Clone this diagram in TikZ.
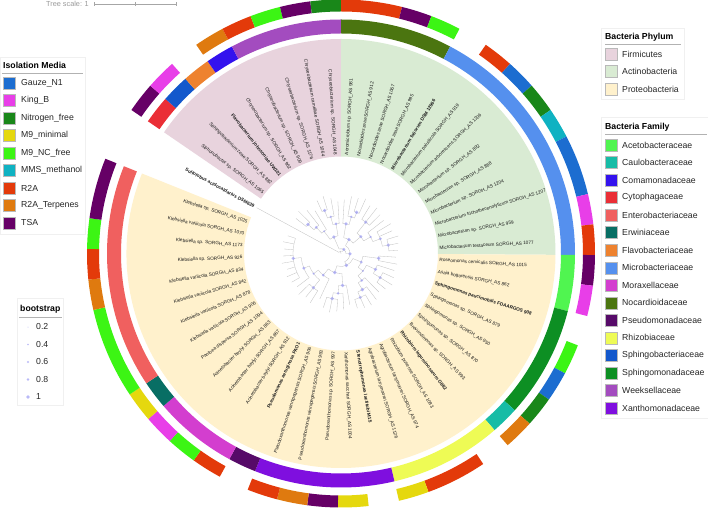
\documentclass[tikz,border=0pt]{standalone}
\usepackage{fontspec}
\setmainfont{Liberation Sans}
\definecolor{cFirm}{HTML}{E8D3DD}
\definecolor{cActi}{HTML}{D9EBD3}
\definecolor{cProt}{HTML}{FFF1CC}
\definecolor{mGauze}{HTML}{1C6DD0}
\definecolor{mKing}{HTML}{E83EE8}
\definecolor{mNitro}{HTML}{198719}
\definecolor{mMmin}{HTML}{E5D80E}
\definecolor{mMNC}{HTML}{3CF514}
\definecolor{mMMS}{HTML}{0FB2C2}
\definecolor{mRtwo}{HTML}{E33A0A}
\definecolor{mTerp}{HTML}{DF7A0F}
\definecolor{mTSA}{HTML}{660066}
\definecolor{fAceto}{HTML}{50F550}
\definecolor{fCaulo}{HTML}{17BCA6}
\definecolor{fComa}{HTML}{3312EE}
\definecolor{fCyto}{HTML}{EA2E36}
\definecolor{fEntero}{HTML}{F0605F}
\definecolor{fErw}{HTML}{086E64}
\definecolor{fFlavo}{HTML}{EE822F}
\definecolor{fMicro}{HTML}{5590EE}
\definecolor{fMorax}{HTML}{D33ECF}
\definecolor{fNocar}{HTML}{4B7510}
\definecolor{fPseudo}{HTML}{560A68}
\definecolor{fRhizo}{HTML}{EEFB55}
\definecolor{fSphb}{HTML}{1358CC}
\definecolor{fSphm}{HTML}{0D8F23}
\definecolor{fWeek}{HTML}{A34CBF}
\definecolor{fXantho}{HTML}{7F0FDF}
\definecolor{bootc}{HTML}{9C9CF4}
\tikzset{
  lab/.style={font=\fontsize{4.7}{5}\selectfont, inner sep=0pt, text=black!90},
  treeline/.style={draw=gray!50, line width=0.3pt},
  boot/.style={fill=bootc, fill opacity=0.7},
  legtext/.style={font=\fontsize{8.7}{10}\selectfont, anchor=west, inner sep=0pt, text=black!85},
  legtitle/.style={font=\fontsize{8.7}{10}\selectfont\bfseries, anchor=west, inner sep=0pt},
  swatch/.style={draw=gray!55, line width=0.3pt},
  legbox/.style={draw=gray!12, fill=white, line width=0.4pt},
}
\newcommand\ringseg[5]{%
  \pgfmathsetmacro\angA{90-6.95*(#1)}%
  \pgfmathsetmacro\angB{90-6.95*((#2)+1)}%
  \fill[#5] (\angA:#3pt) arc[start angle=\angA, end angle=\angB, radius=#3pt]
    -- (\angB:#4pt) arc[start angle=\angB, end angle=\angA, radius=#4pt] -- cycle;}
\newcommand\tnode[6]{%
  \pgfmathsetmacro\tA{86.525-6.95*(#1)}%
  \pgfmathsetmacro\tB{86.525-6.95*(#4)}%
  \pgfmathsetmacro\tC{86.525-6.95*(#5)}%
  \draw[treeline] (\tA:#2pt) -- (\tA:#3pt);
  \draw[treeline] (\tB:#3pt) arc[start angle=\tB, end angle=\tC, radius=#3pt];
  \fill[boot] (\tA:#3pt) circle[radius=#6pt];}
\newcommand\tleaf[3]{%
  \pgfmathsetmacro\tA{86.525-6.95*(#1)}%
  \draw[treeline] (\tA:#2pt) -- (\tA:#3pt);}
\begin{document}
\begin{tikzpicture}[x=1pt,y=1pt]
\useasboundingbox (0,0) rectangle (708,509);
\fill[white] (0,0) rectangle (708,509);

% ---------- tree scale ----------
\node[font=\fontsize{7.3}{8}\selectfont, text=gray!80, anchor=west, inner sep=0pt] (tscale) at (46,505) {Tree scale: 1};
\coordinate (tsA) at (94,505);
\coordinate (tsB) at (135,505);
\coordinate (tsC) at (176,505);
\draw[gray!70, line width=0.5pt] (tsA) -- (tsC);
\foreach \p in {tsA,tsB,tsC} \draw[gray!70, line width=0.5pt] ([yshift=-1.8pt]\p) -- ([yshift=1.8pt]\p);

\begin{scope}[shift={(341,255.5)}]
% ---------- phylum sectors ----------
\ringseg{-8}{-1}{97}{214.5}{cFirm}
\ringseg{0}{12}{97}{214.5}{cActi}
\ringseg{13}{41}{97}{214.5}{cProt}

% ---------- family ring ----------
\foreach \a/\b/\c in {-8/-8/fCyto,-7/-7/fSphb,-6/-6/fFlavo,-5/-5/fComa,-4/-1/fWeek,
  0/3/fNocar,4/12/fMicro,13/14/fAceto,15/18/fSphm,19/19/fCaulo,20/23/fRhizo,
  24/28/fXantho,29/29/fPseudo,30/32/fMorax,33/33/fErw,34/41/fEntero}
  {\ringseg{\a}{\b}{220}{234}{\c}}

% ---------- isolation media ring ----------
\foreach \a/\b/\c in {-8/-8/mTSA,-7/-7/mKing,-5/-5/mTerp,-4/-4/mRtwo,-3/-3/mMNC,-2/-2/mTSA,-1/-1/mNitro,
  0/1/mRtwo,2/2/mTSA,3/3/mMNC,5/5/mRtwo,6/6/mGauze,7/7/mNitro,8/8/mMMS,9/10/mGauze,11/11/mKing,12/12/mRtwo,
  13/13/mTSA,14/14/mKing,16/16/mMNC,17/17/mGauze,18/18/mNitro,19/19/mTerp,21/22/mRtwo,23/23/mMmin,
  25/25/mMmin,26/26/mTSA,27/27/mTerp,28/28/mRtwo,30/30/mRtwo,31/31/mMNC,32/32/mKing,33/33/mMmin,
  34/36/mMNC,37/37/mTerp,38/38/mRtwo,39/39/mMNC,40/41/mTSA}
  {\ringseg{\a}{\b}{242}{254}{\c}}

% ---------- tree ----------
\tnode{-2.44}{0}{2.5}{-9.35}{4.47}{0.01}
\tleaf{-9.35}{2.5}{96}
\tnode{4.47}{2.5}{5}{-3.875}{12.82}{1.6}
% pink clade
\tnode{-3.875}{5}{18}{-5.875}{-1.875}{1.8}
\tnode{-1.875}{18}{30}{-2.75}{-1}{1.5}
\tnode{-2.75}{30}{38}{-3.5}{-2}{1.2}
\tnode{-3.5}{38}{46}{-4}{-3}{1.8}
\tnode{-5.875}{18}{28}{-6.75}{-5}{1.0}
\tnode{-6.75}{28}{36}{-7.5}{-6}{1.4}
\tnode{-7.5}{36}{44}{-8}{-7}{1.8}
\tleaf{-1}{30}{52}\tleaf{-2}{38}{56}\tleaf{-3}{46}{60}\tleaf{-4}{46}{58}
\tleaf{-5}{28}{50}\tleaf{-6}{36}{55}\tleaf{-7}{44}{60}\tleaf{-8}{44}{57}
% actino + proteo
\tnode{12.82}{5}{9}{3.75}{21.89}{1.8}
\tnode{3.75}{9}{16}{0.875}{6.625}{1.8}
\tnode{0.875}{16}{30}{0}{1.75}{1.8}
\tnode{1.75}{30}{38}{1}{2.5}{1.3}
\tnode{2.5}{38}{44}{2}{3}{1.8}
\tnode{6.625}{16}{26}{5}{8.25}{1.6}
\tnode{5}{26}{40}{4}{6}{1.8}
\tnode{8.25}{26}{34}{7}{9.5}{1.2}
\tnode{9.5}{34}{42}{8}{11}{1.5}
\tnode{11}{42}{48}{10}{12}{1.8}
\tleaf{0}{30}{54}\tleaf{1}{38}{58}\tleaf{2}{44}{58}\tleaf{3}{44}{60}
\tleaf{4}{40}{56}\tleaf{5}{40}{58}\tleaf{6}{40}{55}\tleaf{7}{34}{54}
\tleaf{8}{42}{58}\tleaf{9}{42}{56}\tleaf{10}{48}{60}\tleaf{11}{48}{58}\tleaf{12}{48}{57}
\tnode{21.89}{9}{13}{15.75}{28.03}{1.8}
\tnode{15.75}{13}{22}{13.5}{18}{1.5}
\tnode{13.5}{22}{38}{13}{14}{1.8}
\tnode{18}{22}{28}{16}{20}{1.1}
\tnode{16}{28}{38}{15}{17}{1.8}
\tnode{17}{38}{46}{16}{18}{1.6}
\tnode{20}{28}{34}{19}{21}{1.4}
\tnode{21}{34}{42}{20}{22}{1.8}
\tnode{22}{42}{48}{21}{23}{1.7}
\tleaf{13}{38}{55}\tleaf{14}{38}{57}\tleaf{15}{38}{56}\tleaf{16}{46}{58}
\tleaf{17}{46}{60}\tleaf{18}{46}{57}\tleaf{19}{34}{54}\tleaf{20}{42}{58}
\tleaf{21}{48}{60}\tleaf{22}{48}{59}\tleaf{23}{48}{57}
\tnode{28.03}{13}{20}{25}{31.06}{1.8}
\tnode{25}{20}{32}{24}{26}{1.8}
\tnode{26}{32}{40}{25}{27}{1.3}
\tnode{27}{40}{46}{26}{28}{1.8}
\tnode{31.06}{20}{28}{29}{33.125}{1.5}
\tnode{33.125}{28}{34}{31}{35.25}{1.2}
\tnode{31}{34}{44}{30}{32}{1.8}
\tnode{35.25}{34}{40}{33}{37.5}{1.6}
\tnode{37.5}{40}{48}{34}{41}{1.8}
\tleaf{24}{32}{52}\tleaf{25}{40}{56}\tleaf{26}{46}{58}\tleaf{27}{46}{60}
\tleaf{28}{46}{57}\tleaf{29}{28}{50}\tleaf{30}{44}{58}\tleaf{31}{44}{56}
\tleaf{32}{44}{59}\tleaf{33}{40}{55}
\tleaf{34}{48}{57}\tleaf{35}{48}{59}\tleaf{36}{48}{56}\tleaf{37}{48}{60}
\tleaf{38}{48}{58}\tleaf{39}{48}{57}\tleaf{40}{48}{59}\tleaf{41}{48}{56}

% ---------- leaf labels ----------
\foreach \i/\t in {0/{Aeromicrobium sp. SORGH\_AS 981},
  1/{Nocardioides zeae SORGH\_AS 912},
  2/{Nocardioides zeae SORGH\_AS 1067},
  3/{Nocardioides zeae SORGH\_AS 995},
  4/{\bfseries Microbacterium foliorum DSM 12966},
  5/{Microbacterium paludicola SORGH\_AS 919},
  6/{Microbacterium arborescens SORGH\_AS 1206},
  7/{Microbacterium sp. SORGH\_AS 892},
  8/{Microbacterium sp. SORGH\_AS 888},
  9/{Microbacterium sp. SORGH\_AS 1204},
  10/{Microbacterium trichothecenolyticum SORGH\_AS 1207},
  11/{Microbacterium sp. SORGH\_AS 959},
  12/{Microbacterium testaceum SORGH\_AS 1077},
  13/{Roseomonas cervicalis SORGH\_AS 1015},
  14/{Asaia bogorensis SORGH\_AS 862},
  15/{\bfseries Sphingomonas paucimobilis FDAARGOS 908},
  16/{Sphingomonas sp. SORGH\_AS 879},
  17/{Sphingomonas sp. SORGH\_AS 950},
  18/{Sphingomonas sp. SORGH\_AS 870},
  19/{Brevundimonas sp. SORGH\_AS 993},
  20/{\bfseries Rhizobium leguminosarum G882},
  21/{Rhizobium pusense SORGH\_AS 1083},
  22/{Agrobacterium larrymoorei SORGH\_AS 974},
  23/{Agrobacterium larrymoorei SORGH\_AS 1126},
  24/{\bfseries Stenotrophomonas lactitubi M15},
  25/{Xanthomonas sacchari SORGH\_AS 1004}}
{\pgfmathsetmacro\la{86.525-6.95*\i}
 \node[lab, anchor=west, rotate=\la] (lab\i) at (\la:98.5pt) {\t};}

\foreach \i/\t in {-8/{Siphonobacter sp. SORGH\_AS 1065},
  -7/{Sphingobacterium zeae SORGH\_AS 882},
  -6/{\bfseries Flavobacterium johnsoniae UW101},
  -5/{Chryseobacterium sp. SORGH\_AS 962},
  -4/{Chryseobacterium sp. SORGH\_AS 909},
  -3/{Chryseobacterium sp. SORGH\_AS 1176},
  -2/{Chryseobacterium camelliae SORGH\_AS 1064},
  -1/{Chryseobacterium sp. SORGH\_AS 1048},
  26/{Pseudoxanthomonas sp. SORGH\_AS 997},
  27/{Pseudoxanthomonas winnipegensis SORGH\_AS 993},
  28/{Pseudoxanthomonas winnipegensis SORGH\_AS 906},
  29/{\bfseries Pseudomonas aeruginosa PAO1},
  30/{Acinetobacter baylyi SORGH\_AS 912},
  31/{Acinetobacter baylyi SORGH\_AS 867},
  32/{Acinetobacter baylyi SORGH\_AS 863},
  33/{Pantoea dispersa SORGH\_AS 1094},
  34/{Klebsiella variicola SORGH\_AS 906},
  35/{Klebsiella variicola SORGH\_AS 878},
  36/{Klebsiella variicola SORGH\_AS 842},
  37/{Klebsiella variicola SORGH\_AS 834},
  38/{Klebsiella sp. SORGH\_AS 926},
  39/{Klebsiella sp. SORGH\_AS 1173},
  40/{Klebsiella variicola SORGH\_AS 1070},
  41/{Klebsiella sp. SORGH\_AS 1025},
  -9.35/{\bfseries Sulfolobus acidocaldarius DSM639}}
{\pgfmathsetmacro\la{86.525-6.95*\i}
 \pgfmathsetmacro\lb{\la+180}
 \node[lab, anchor=east, rotate=\lb] (labL\i) at (\la:98.5pt) {\t};}
\end{scope}

% ---------- legend: isolation media ----------
\draw[legbox] (0.3,275) rectangle (85,452);
\node[legtitle] (isoT) at (3,444) {Isolation Media};
\draw[gray!60, line width=0.5pt] (2,436) -- (83,436);
\foreach \n/\c [count=\k from 0] in {Gauze\_N1/mGauze, King\_B/mKing, Nitrogen\_free/mNitro,
  M9\_minimal/mMmin, M9\_NC\_free/mMNC, MMS\_methanol/mMMS, R2A/mRtwo, R2A\_Terpenes/mTerp, TSA/mTSA}
{\pgfmathsetmacro\yy{509-83-17.5*\k}
 \fill[\c] (3,\yy-6) rectangle (15,\yy+6);
 \draw[swatch] (3,\yy-6) rectangle (15,\yy+6);
 \node[legtext] (iso\k) at (21,\yy) {\n};}

% ---------- legend: bootstrap ----------
\draw[legbox] (17,104) rectangle (63,211);
\node[legtitle] (bootT) at (20,200) {bootstrap};
\draw[gray!60, line width=0.5pt] (19,192) -- (62,192);
\foreach \n/\r [count=\k from 0] in {0.2/0.5, 0.4/0.8, 0.6/1.1, 0.8/1.4, 1/1.8}
{\pgfmathsetmacro\yy{509-327-17.5*\k}
 \fill[boot] (28,\yy) circle[radius=\r pt];
 \node[legtext] (boot\k) at (36,\yy) {\n};}

% ---------- legend: phylum ----------
\draw[legbox] (601,410) rectangle (684,481);
\node[legtitle] (phyT) at (605,472) {Bacteria Phylum};
\draw[gray!60, line width=0.5pt] (605,465) -- (681,465);
\foreach \n/\c [count=\k from 0] in {Firmicutes/cFirm, Actinobacteria/cActi, Proteobacteria/cProt}
{\pgfmathsetmacro\yy{509-54-17.5*\k}
 \fill[\c] (605,\yy-6) rectangle (617,\yy+6);
 \draw[swatch] (605,\yy-6) rectangle (617,\yy+6);
 \node[legtext] (phy\k) at (622,\yy) {\n};}

% ---------- legend: family ----------
\draw[legbox] (601,91) rectangle (707.7,392);
\node[legtitle] (famT) at (605,382) {Bacteria Family};
\draw[gray!60, line width=0.5pt] (605,375) -- (707,375);
\foreach \n/\c [count=\k from 0] in {Acetobacteraceae/fAceto, Caulobacteraceae/fCaulo, Comamonadaceae/fComa,
  Cytophagaceae/fCyto, Enterobacteriaceae/fEntero, Erwiniaceae/fErw, Flavobacteriaceae/fFlavo,
  Microbacteriaceae/fMicro, Moraxellaceae/fMorax, Nocardioidaceae/fNocar, Pseudomonadaceae/fPseudo,
  Rhizobiaceae/fRhizo, Sphingobacteriaceae/fSphb, Sphingomonadaceae/fSphm, Weeksellaceae/fWeek,
  Xanthomonadaceae/fXantho}
{\pgfmathsetmacro\yy{509-145-17.53*\k}
 \fill[\c] (605,\yy-6) rectangle (617,\yy+6);
 \draw[swatch] (605,\yy-6) rectangle (617,\yy+6);
 \node[legtext] (fam\k) at (622,\yy) {\n};}
\end{tikzpicture}
\end{document}
